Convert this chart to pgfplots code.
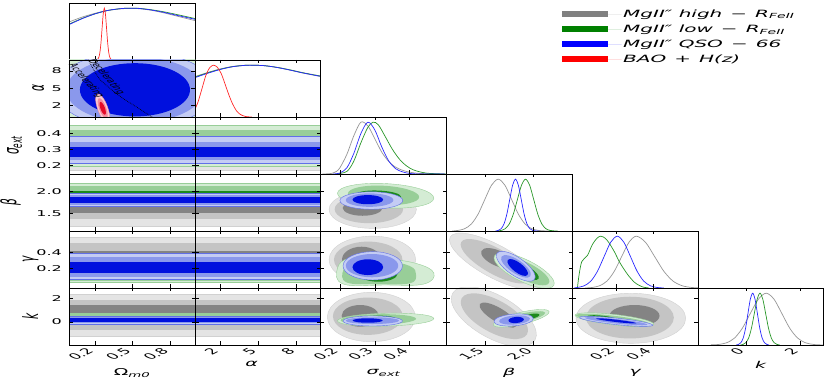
\documentclass[border=0pt]{standalone}
\usepackage{fontspec}
\setmainfont{DejaVu Sans}
\newfontfamily\wide[FakeStretch=2]{DejaVu Sans}
\usepackage{pgfplots}
\pgfplotsset{compat=1.18}

\definecolor{gr3}{RGB}{228,228,228}
\definecolor{gr2}{RGB}{196,196,196}
\definecolor{gr1}{RGB}{132,132,132}
\definecolor{gn3}{RGB}{212,236,212}
\definecolor{gn2}{RGB}{152,206,152}
\definecolor{gn1}{RGB}{28,138,28}
\definecolor{bl3}{RGB}{196,204,244}
\definecolor{bl2}{RGB}{138,152,236}
\definecolor{bl1}{RGB}{0,16,222}
\definecolor{rd3}{RGB}{250,205,212}
\definecolor{rd2}{RGB}{244,140,158}
\definecolor{rd1}{RGB}{228,10,40}
\definecolor{lgray}{RGB}{150,150,150}
\definecolor{lgreen}{RGB}{40,150,40}
\definecolor{lblue}{RGB}{40,40,255}
\definecolor{lred}{RGB}{255,40,40}

\pgfplotsset{
 panel/.style={scale only axis, width=125.7pt, height=57pt, anchor=south west,
   clip mode=individual, axis on top,
   axis line style={black, line width=0.6pt},
   tick style={black, line width=0.5pt}, major tick length=3.5pt,
   xticklabels={}, yticklabels={},
   xticklabel style={font=\fontsize{8.3}{10}\selectfont, yshift=-2pt, xscale=2, rotate=45, anchor=east},
   yticklabel style={font=\wide\fontsize{8}{10}\selectfont, anchor=east, xshift=-4pt},
   every axis x label/.style={at={(axis description cs:0.5,-0.49)}, anchor=center, font=\wide\fontsize{9.5}{11}\selectfont},
   every axis y label/.style={at={(axis description cs:-0.3,0.5)}, anchor=center, font=\fontsize{10.5}{12}\selectfont, xscale=2, rotate=90},
 },
 xOm/.style={xmin=-0.005, xmax=1.0, xtick={0.2,0.5,0.8}},
 xAl/.style={xmin=0.05, xmax=9.9, xtick={2,5,8}},
 xSi/.style={xmin=0.145, xmax=0.505, xtick={0.2,0.3,0.4}},
 xBe/.style={xmin=1.09, xmax=2.40, xtick={1.5,2.0}},
 xGa/.style={xmin=-0.041, xmax=0.646, xtick={0.2,0.4}},
 xK/.style={xmin=-1.78, xmax=2.87, xtick={0,2}},
 yAl/.style={ymin=0.05, ymax=9.9, ytick={2,5,8}},
 ySi/.style={ymin=0.145, ymax=0.505, ytick={0.2,0.3,0.4}},
 yBe/.style={ymin=1.09, ymax=2.40, ytick={1.5,2.0}},
 yGa/.style={ymin=-0.05, ymax=0.675, ytick={0.2,0.4}},
 yK/.style={ymin=-1.97, ymax=2.92, ytick={0,2}},
 yD/.style={ymin=0, ymax=1.1, ytick=\empty},
 G3/.style={fill=gr3, draw=gr2!60!gr3, line width=0.4pt},
 G2/.style={fill=gr2, draw=none},
 G1/.style={fill=gr1, draw=none},
 N3/.style={fill=gn3, draw=gn2, line width=0.4pt},
 N2/.style={fill=gn2, draw=none},
 N1/.style={fill=gn1, draw=none},
 B3/.style={fill=bl3, draw=bl2!70!bl1, line width=0.4pt},
 B2/.style={fill=bl2, draw=none},
 B1/.style={fill=bl1, draw=none},
 R3/.style={fill=rd3, draw=rd2, line width=0.4pt},
 R2/.style={fill=rd2, draw=none},
 R1/.style={fill=rd1, draw=none},
 E/.style={smooth cycle, tension=1},
 Lg/.style={lgray, line width=0.7pt, smooth},
 Ln/.style={lgreen, line width=0.7pt, smooth},
 Lb/.style={lblue, line width=0.7pt, smooth},
 Lr/.style={lred, line width=0.7pt, smooth},
}

\newcommand{\band}[3]{\addplot[#1] coordinates {(-20,#2) (20,#2) (20,#3) (-20,#3)} --cycle;}
\newcommand{\bandsSi}{%
 \band{G3}{0.17}{0.43}\band{G2}{0.19}{0.39}\band{G1}{0.22}{0.33}%
 \band{N3}{0.195}{0.455}\band{N2}{0.225}{0.42}\band{N1}{0.26}{0.37}%
 \band{B3}{0.212}{0.385}\band{B2}{0.233}{0.349}\band{B1}{0.254}{0.317}}
\newcommand{\bandsBe}{%
 \band{G3}{1.20}{2.02}\band{G2}{1.36}{1.88}\band{G1}{1.497}{1.77}%
 \band{N3}{1.72}{2.186}\band{N2}{1.78}{2.124}\band{N1}{1.85}{2.01}%
 \band{B3}{1.65}{1.97}\band{B2}{1.687}{1.917}\band{B1}{1.74}{1.864}}
\newcommand{\bandsGa}{%
 \band{G3}{0.02}{0.595}\band{G2}{0.055}{0.519}\band{G1}{0.15}{0.425}%
 \band{N3}{0.03}{0.33}\band{N2}{0.045}{0.28}\band{N1}{0.07}{0.2}%
 \band{B3}{0.062}{0.39}\band{B2}{0.095}{0.35}\band{B1}{0.146}{0.286}}
\newcommand{\bandsK}{%
 \band{G3}{-1.2}{2.38}\band{G2}{-0.69}{1.89}\band{G1}{-0.26}{1.46}%
 \band{N3}{0.0}{0.8}\band{N2}{0.12}{0.68}\band{N1}{0.3}{0.55}%
 \band{B3}{-0.17}{0.51}\band{B2}{-0.07}{0.42}\band{B1}{0.03}{0.32}}

\begin{document}
\begin{tikzpicture}
\useasboundingbox (0pt,0pt) rectangle (831pt,382pt);

% ---------- row 0 ----------
\begin{axis}[panel, at={(69.3pt,322pt)}, xOm, yD]
\addplot[Lg] coordinates {(0,0.74) (0.1,0.83) (0.2,0.9) (0.3,0.955) (0.4,0.985) (0.47,0.995) (0.55,0.99) (0.65,0.96) (0.75,0.91) (0.85,0.85) (1.0,0.76)};
\addplot[Ln] coordinates {(0,0.70) (0.1,0.805) (0.2,0.89) (0.3,0.955) (0.4,0.99) (0.47,1.0) (0.55,0.997) (0.65,0.97) (0.75,0.93) (0.85,0.88) (1.0,0.80)};
\addplot[Lb] coordinates {(0,0.69) (0.1,0.80) (0.2,0.89) (0.3,0.955) (0.4,0.99) (0.47,1.0) (0.55,0.995) (0.65,0.965) (0.75,0.92) (0.85,0.865) (1.0,0.785)};
\addplot[Lr] coordinates {(0.2,0) (0.221,0.011) (0.23,0.044) (0.239,0.135) (0.248,0.325) (0.257,0.607) (0.266,0.883) (0.275,1) (0.284,0.883) (0.293,0.607) (0.302,0.325) (0.311,0.135) (0.32,0.044) (0.329,0.011) (0.35,0)};
\end{axis}

% ---------- row 1 ----------
\begin{axis}[panel, at={(69.3pt,265pt)}, xOm, yAl, yticklabels={2,5,8},
  ylabel={\itshape α}, ylabel style={at={(axis description cs:-0.249,0.5)}}]
\addplot[G3,E] coordinates {(1.3,4.8) (0.5,12.8) (-0.3,4.8) (0.5,-3.2)};
\addplot[G2,E] coordinates {(1.1,4.8) (0.5,11) (-0.1,4.8) (0.5,-1.4)};
\addplot[G1,E] coordinates {(0.95,4.8) (0.5,9.5) (0.05,4.8) (0.5,0.1)};
\addplot[N3,E] coordinates {(1.3,4.9) (0.52,12.7) (-0.26,4.9) (0.52,-2.9)};
\addplot[N2,E] coordinates {(1.1,4.9) (0.52,10.9) (-0.06,4.9) (0.52,-1.1)};
\addplot[N1,E] coordinates {(0.96,4.9) (0.52,9.5) (0.08,4.9) (0.52,0.3)};
\addplot[B3,E] coordinates {(1.16,4.75) (0.52,11.35) (-0.12,4.75) (0.52,-1.85)};
\addplot[B2,E] coordinates {(1.07,4.75) (0.52,10.45) (-0.03,4.75) (0.52,-0.95)};
\addplot[B1,E] coordinates {(0.96,4.75) (0.52,9.35) (0.08,4.75) (0.52,0.15)};
\addplot[R3,E] coordinates {(0.22,4.05) (0.3,1.83) (0.304,-0.95) (0.224,1.27)};
\addplot[R2,E] coordinates {(0.232,3.3) (0.289,1.75) (0.292,-0.2) (0.235,1.35)};
\addplot[R1,E] coordinates {(0.243,2.65) (0.279,1.68) (0.281,0.45) (0.245,1.42)};
\addplot[black, densely dotted, line width=0.7pt, smooth] coordinates {(0.14,10.2) (0.19,8.2) (0.244,6.45) (0.31,5.2) (0.404,3.56) (0.52,1.95) (0.66,0.0)};
\node[font=\fontsize{5.8}{7}\selectfont, inner sep=0pt, xscale=2, rotate=-66] at (axis cs:0.13,6.3) {Accelerating};
\node[font=\fontsize{5.8}{7}\selectfont, inner sep=0pt, xscale=2, rotate=-66] at (axis cs:0.29,7.0) {Decelerating};
\end{axis}
\begin{axis}[panel, at={(195pt,265pt)}, xAl, yD]
\addplot[Lg] coordinates {(0.05,0.78) (1,0.855) (2,0.925) (3,0.975) (4,0.998) (4.6,1.0) (5.5,0.99) (6.5,0.955) (7.5,0.905) (8.5,0.85) (9.9,0.78)};
\addplot[Ln] coordinates {(0.05,0.77) (1,0.85) (2,0.92) (3,0.972) (4,0.998) (4.6,1.0) (5.5,0.99) (6.5,0.957) (7.5,0.91) (8.5,0.855) (9.9,0.79)};
\addplot[Lb] coordinates {(0.05,0.76) (1,0.84) (2,0.915) (3,0.97) (4,0.997) (4.6,1.0) (5.5,0.99) (6.5,0.955) (7.5,0.905) (8.5,0.85) (9.9,0.785)};
\addplot[Lr] coordinates {(0.05,0.15) (0.3,0.3) (0.6,0.55) (0.9,0.8) (1.2,0.95) (1.5,1.0) (1.8,0.96) (2.1,0.84) (2.4,0.64) (2.7,0.43) (3.0,0.25) (3.3,0.12) (3.6,0.05) (4.0,0.01) (4.5,0)};
\end{axis}

% ---------- row 2 ----------
\begin{axis}[panel, at={(69.3pt,208pt)}, xOm, ySi, yticklabels={0.2,0.3,0.4},
  ylabel={\itshape σ\textsubscript{ext}}, ylabel style={at={(axis description cs:-0.436,0.5)}}]
\bandsSi
\end{axis}
\begin{axis}[panel, at={(195pt,208pt)}, xAl, ySi]
\bandsSi
\end{axis}
\begin{axis}[panel, at={(320.7pt,208pt)}, xSi, yD]
\addplot[Lg] coordinates {(0.15,0) (0.175,0.01) (0.19,0.05) (0.2,0.12) (0.22,0.38) (0.24,0.74) (0.26,1.0) (0.28,0.93) (0.3,0.68) (0.32,0.42) (0.34,0.24) (0.36,0.13) (0.38,0.07) (0.4,0.035) (0.43,0.01) (0.5,0)};
\addplot[Ln] coordinates {(0.19,0) (0.22,0.05) (0.24,0.25) (0.26,0.6) (0.28,0.9) (0.295,1.0) (0.31,0.95) (0.33,0.72) (0.35,0.48) (0.37,0.29) (0.39,0.16) (0.41,0.08) (0.43,0.04) (0.45,0.015) (0.48,0.004) (0.505,0)};
\addplot[Lb] coordinates {(0.18,0) (0.2,0.02) (0.22,0.12) (0.24,0.4) (0.26,0.78) (0.28,1.0) (0.30,0.85) (0.32,0.52) (0.34,0.25) (0.36,0.1) (0.38,0.04) (0.40,0.01) (0.43,0) (0.5,0)};
\end{axis}

% ---------- row 3 ----------
\begin{axis}[panel, at={(69.3pt,151pt)}, xOm, yBe, yticklabels={1.5,2.0},
  ylabel={\itshape β}, ylabel style={at={(axis description cs:-0.468,0.5)}}]
\bandsBe
\end{axis}
\begin{axis}[panel, at={(195pt,151pt)}, xAl, yBe]
\bandsBe
\end{axis}
\begin{axis}[panel, at={(320.7pt,151pt)}, xSi, yBe]
\addplot[G3,E] coordinates {(0.419,1.585) (0.294,2.02) (0.169,1.585) (0.294,1.15)};
\addplot[G2,E] coordinates {(0.381,1.59) (0.283,1.91) (0.185,1.59) (0.283,1.27)};
\addplot[G1,E] coordinates {(0.322,1.62) (0.265,1.8) (0.208,1.62) (0.265,1.44)};
\addplot[N3,E] coordinates {(0.469,1.845) (0.331,2.18) (0.193,1.955) (0.331,1.62)};
\addplot[N2,E] coordinates {(0.427,1.87) (0.325,2.13) (0.223,1.95) (0.325,1.69)};
\addplot[N1,E] coordinates {(0.375,1.88) (0.31,2.02) (0.245,1.92) (0.31,1.78)};
\addplot[B3,E] coordinates {(0.38,1.79) (0.29,1.99) (0.2,1.79) (0.29,1.59)};
\addplot[B2,E] coordinates {(0.353,1.8) (0.285,1.955) (0.217,1.8) (0.285,1.645)};
\addplot[B1,E] coordinates {(0.324,1.81) (0.28,1.915) (0.236,1.81) (0.28,1.705)};
\end{axis}
\begin{axis}[panel, at={(446.4pt,151pt)}, xBe, yD]
\addplot[Lg] coordinates {(1.15,0) (1.21,0.011) (1.28,0.044) (1.35,0.135) (1.42,0.325) (1.49,0.607) (1.56,0.883) (1.63,1) (1.70,0.883) (1.77,0.607) (1.84,0.325) (1.91,0.135) (1.98,0.044) (2.05,0.011) (2.12,0.002) (2.18,0)};
\addplot[Ln] coordinates {(1.62,0) (1.66,0.011) (1.7025,0.044) (1.745,0.135) (1.7875,0.325) (1.83,0.607) (1.8725,0.883) (1.915,1) (1.9575,0.883) (2.0,0.607) (2.0425,0.325) (2.085,0.135) (2.1275,0.044) (2.17,0.011) (2.2125,0.002) (2.25,0)};
\addplot[Lb] coordinates {(1.6,0) (1.63,0.011) (1.66,0.044) (1.69,0.135) (1.72,0.325) (1.75,0.607) (1.78,0.883) (1.81,1) (1.84,0.883) (1.87,0.607) (1.90,0.325) (1.93,0.135) (1.96,0.044) (1.99,0.011) (2.02,0.002) (2.05,0)};
\end{axis}

% ---------- row 4 ----------
\begin{axis}[panel, at={(69.3pt,94pt)}, xOm, yGa, yticklabels={0.2,0.4},
  ylabel={\itshape γ}, ylabel style={at={(axis description cs:-0.308,0.5)}}]
\bandsGa
\end{axis}
\begin{axis}[panel, at={(195pt,94pt)}, xAl, yGa]
\bandsGa
\end{axis}
\begin{axis}[panel, at={(320.7pt,94pt)}, xSi, yGa]
\addplot[G3,E] coordinates {(0.417,0.31) (0.293,0.61) (0.169,0.31) (0.293,0.01)};
\addplot[G2,E] coordinates {(0.379,0.31) (0.281,0.54) (0.183,0.31) (0.281,0.08)};
\addplot[G1,E] coordinates {(0.318,0.31) (0.262,0.475) (0.206,0.31) (0.262,0.145)};
\addplot[N3, smooth cycle, tension=0.7] coordinates {(0.193,0.20) (0.23,0.33) (0.33,0.32) (0.42,0.26) (0.469,0.14) (0.44,0.0) (0.33,-0.012) (0.21,0.0)};
\addplot[N2, smooth cycle, tension=0.7] coordinates {(0.21,0.18) (0.24,0.29) (0.33,0.29) (0.40,0.23) (0.418,0.12) (0.40,0.01) (0.31,0.0) (0.22,0.02)};
\addplot[N1,E] coordinates {(0.365,0.13) (0.31,0.23) (0.255,0.13) (0.31,0.03)};
\addplot[B3,E] coordinates {(0.379,0.232) (0.294,0.412) (0.209,0.232) (0.294,0.052)};
\addplot[B2,E] coordinates {(0.367,0.234) (0.292,0.382) (0.217,0.234) (0.292,0.086)};
\addplot[B1,E] coordinates {(0.324,0.215) (0.28,0.315) (0.236,0.215) (0.28,0.115)};
\end{axis}
\begin{axis}[panel, at={(446.4pt,94pt)}, xBe, yGa]
\addplot[G3,E] coordinates {(1.13,0.60) (1.68,0.47) (2.06,-0.02) (1.51,0.11)};
\addplot[G2,E] coordinates {(1.245,0.535) (1.668,0.43) (1.955,0.045) (1.532,0.15)};
\addplot[G1,E] coordinates {(1.455,0.42) (1.651,0.42) (1.785,0.24) (1.589,0.24)};
\addplot[N3,E] coordinates {(2.21,-0.015) (1.95,0.296) (1.59,0.355) (1.85,0.044)};
\addplot[N2,E] coordinates {(2.16,0.015) (1.95,0.265) (1.66,0.315) (1.87,0.065)};
\addplot[N1,E] coordinates {(2.05,0.07) (1.955,0.21) (1.81,0.23) (1.905,0.09)};
\addplot[B3,E] coordinates {(1.618,0.391) (1.866,0.32) (2.008,0.061) (1.76,0.132)};
\addplot[B2,E] coordinates {(1.665,0.35) (1.855,0.295) (1.965,0.1) (1.775,0.155)};
\addplot[B1,E] coordinates {(1.73,0.306) (1.863,0.261) (1.936,0.116) (1.803,0.161)};
\end{axis}
\begin{axis}[panel, at={(572.1pt,94pt)}, xGa, yD]
\addplot[Lg] coordinates {(0.03,0) (0.07,0.011) (0.11,0.044) (0.15,0.135) (0.19,0.325) (0.23,0.607) (0.27,0.883) (0.31,1) (0.36,0.883) (0.41,0.607) (0.46,0.325) (0.51,0.135) (0.56,0.044) (0.61,0.011) (0.646,0.003)};
\addplot[Ln] coordinates {(-0.012,0) (-0.003,0.25) (0.012,0.51) (0.043,0.63) (0.07,0.84) (0.095,0.96) (0.116,1.0) (0.14,0.96) (0.161,0.87) (0.19,0.7) (0.216,0.515) (0.243,0.36) (0.27,0.226) (0.3,0.11) (0.325,0.052) (0.35,0.015) (0.38,0)};
\addplot[Lb] coordinates {(-0.03,0) (-0.01,0.011) (0.026,0.044) (0.062,0.135) (0.098,0.325) (0.134,0.607) (0.17,0.883) (0.206,1) (0.242,0.883) (0.278,0.607) (0.314,0.325) (0.35,0.135) (0.386,0.044) (0.422,0.011) (0.46,0)};
\end{axis}

% ---------- row 5 ----------
\begin{axis}[panel, at={(69.3pt,37pt)}, xOm, yK, yticklabels={0,2}, xticklabels={0.2,0.5,0.8},
  ylabel={\itshape k}, ylabel style={at={(axis description cs:-0.312,0.5)}},
  xlabel={Ω\textsubscript{\itshape m0}}]
\bandsK
\end{axis}
\begin{axis}[panel, at={(195pt,37pt)}, xAl, yK, xticklabels={2,5,8},
  xlabel={\itshape α}, xlabel style={at={(axis description cs:0.45,-0.333)}}]
\bandsK
\end{axis}
\begin{axis}[panel, at={(320.7pt,37pt)}, xSi, yK, xticklabels={0.2,0.3,0.4},
  xlabel={\itshape σ\textsubscript{ext}}]
\addplot[G3,E] coordinates {(0.416,0.43) (0.29,2.55) (0.164,0.43) (0.29,-1.69)};
\addplot[G2,E] coordinates {(0.38,0.5) (0.28,2.1) (0.18,0.5) (0.28,-1.1)};
\addplot[G1,E] coordinates {(0.311,0.53) (0.258,1.46) (0.205,0.53) (0.258,-0.4)};
\addplot[N3,E] coordinates {(0.469,0.3) (0.331,0.75) (0.193,0.1) (0.331,-0.35)};
\addplot[N2,E] coordinates {(0.418,0.28) (0.31,0.67) (0.202,0.16) (0.31,-0.23)};
\addplot[N1,E] coordinates {(0.36,0.3) (0.31,0.55) (0.26,0.3) (0.31,0.05)};
\addplot[B3,E] coordinates {(0.379,0.09) (0.294,0.52) (0.209,0.09) (0.294,-0.34)};
\addplot[B2,E] coordinates {(0.369,0.12) (0.293,0.41) (0.217,0.12) (0.293,-0.17)};
\addplot[B1,E] coordinates {(0.3225,0.13) (0.2795,0.32) (0.2365,0.13) (0.2795,-0.06)};
\end{axis}
\begin{axis}[panel, at={(446.4pt,37pt)}, xBe, yK, xticklabels={1.5,2.0},
  xlabel={\itshape β}]
\addplot[G3,E] coordinates {(1.154,2.465) (1.694,2.065) (2.014,-1.535) (1.474,-1.135)};
\addplot[G2,E] coordinates {(1.25,2.05) (1.675,1.7) (1.93,-1.05) (1.505,-0.7)};
\addplot[G1,E] coordinates {(1.44,1.55) (1.67,1.1) (1.82,-0.35) (1.59,0.1)};
\addplot[N3,E] coordinates {(2.16,0.89) (1.884,-0.18) (1.58,-0.25) (1.856,0.82)};
\addplot[N2,E] coordinates {(2.12,0.8) (1.892,-0.01) (1.64,-0.1) (1.868,0.71)};
\addplot[N1,E] coordinates {(2.06,0.63) (1.975,0.28) (1.88,0.33) (1.965,0.68)};
\addplot[B3,E] coordinates {(1.996,0.325) (1.781,0.675) (1.586,0.025) (1.801,-0.325)};
\addplot[B2,E] coordinates {(1.96,0.295) (1.792,0.555) (1.64,0.055) (1.808,-0.205)};
\addplot[B1,E] coordinates {(1.897,0.235) (1.813,0.435) (1.737,0.115) (1.821,-0.085)};
\end{axis}
\begin{axis}[panel, at={(572.1pt,37pt)}, xGa, yK, xticklabels={0.2,0.4},
  xlabel={\itshape γ}]
\addplot[G3,E] coordinates {(0.58,0.32) (0.28,2.47) (-0.02,0.32) (0.28,-1.83)};
\addplot[G2,E] coordinates {(0.515,0.38) (0.275,2.17) (0.035,0.38) (0.275,-1.41)};
\addplot[G1,E] coordinates {(0.437,0.53) (0.3,1.46) (0.163,0.53) (0.3,-0.4)};
\addplot[N3,E] coordinates {(-0.025,0.58) (0.19,0.65) (0.405,-0.18) (0.19,-0.25)};
\addplot[N2,E] coordinates {(-0.02,0.58) (0.18,0.55) (0.38,-0.14) (0.18,-0.11)};
\addplot[N1,E] coordinates {(0.04,0.47) (0.12,0.55) (0.2,0.23) (0.12,0.15)};
\addplot[B3,E] coordinates {(0.4,-0.27) (0.2,0.34) (0.0,0.39) (0.2,-0.22)};
\addplot[B2,E] coordinates {(0.37,-0.22) (0.2,0.26) (0.03,0.36) (0.2,-0.12)};
\addplot[B1,E] coordinates {(0.31,-0.1) (0.2,0.2) (0.09,0.3) (0.2,0.0)};
\end{axis}
\begin{axis}[panel, at={(697.8pt,37pt)}, xK, yD, xticklabels={0,2},
  xlabel={\itshape k}, xlabel style={at={(axis description cs:0.5,-0.35)}}]
\addplot[Lg] coordinates {(-1.3,0.003) (-1.0,0.011) (-0.71,0.044) (-0.42,0.135) (-0.13,0.325) (0.16,0.607) (0.46,0.883) (0.75,1) (1.04,0.883) (1.33,0.607) (1.62,0.325) (1.91,0.135) (2.2,0.044) (2.49,0.011) (2.78,0.002) (2.87,0.001)};
\addplot[Ln] coordinates {(-0.2,0) (-0.11,0.011) (-0.005,0.044) (0.1,0.135) (0.205,0.325) (0.31,0.607) (0.415,0.883) (0.52,1) (0.625,0.883) (0.73,0.607) (0.835,0.325) (0.94,0.135) (1.045,0.044) (1.15,0.011) (1.25,0)};
\addplot[Lb] coordinates {(-0.36,0) (-0.275,0.011) (-0.1875,0.044) (-0.1,0.135) (-0.0125,0.325) (0.075,0.607) (0.1625,0.883) (0.25,1) (0.3375,0.883) (0.425,0.607) (0.5125,0.325) (0.6,0.135) (0.6875,0.044) (0.775,0.011) (0.86,0)};
\end{axis}

% ---------- legend ----------
\begin{axis}[at={(0pt,0pt)}, anchor=south west, scale only axis, width=831pt, height=382pt,
  hide axis, xmin=0, xmax=1, ymin=0, ymax=1,
  legend style={at={(0.6757,0.979)}, anchor=north west, draw=none, fill=none,
    font=\wide\itshape\fontsize{10}{12}\selectfont, row sep=3pt, inner sep=0pt,
    nodes={inner sep=1.5pt}},
  legend cell align=left,
  legend image code/.code={\fill[#1] (0pt,-2.9pt) rectangle (46pt,2.9pt); \path (0pt,0pt) -- (60pt,0pt);}]
\addlegendimage{fill={rgb,255:red,128;green,128;blue,128}, draw=none}
\addlegendentry{MgII″ high \,−\, R\textsubscript{FeII}}
\addlegendimage{fill={rgb,255:red,0;green,128;blue,0}, draw=none}
\addlegendentry{MgII″ low \,−\, R\textsubscript{FeII}}
\addlegendimage{fill={rgb,255:red,0;green,0;blue,255}, draw=none}
\addlegendentry{MgII″ QSO \,−\, 66}
\addlegendimage{fill={rgb,255:red,255;green,0;blue,0}, draw=none}
\addlegendentry{BAO \,+\, H(z)}
\end{axis}
\end{tikzpicture}
\end{document}
